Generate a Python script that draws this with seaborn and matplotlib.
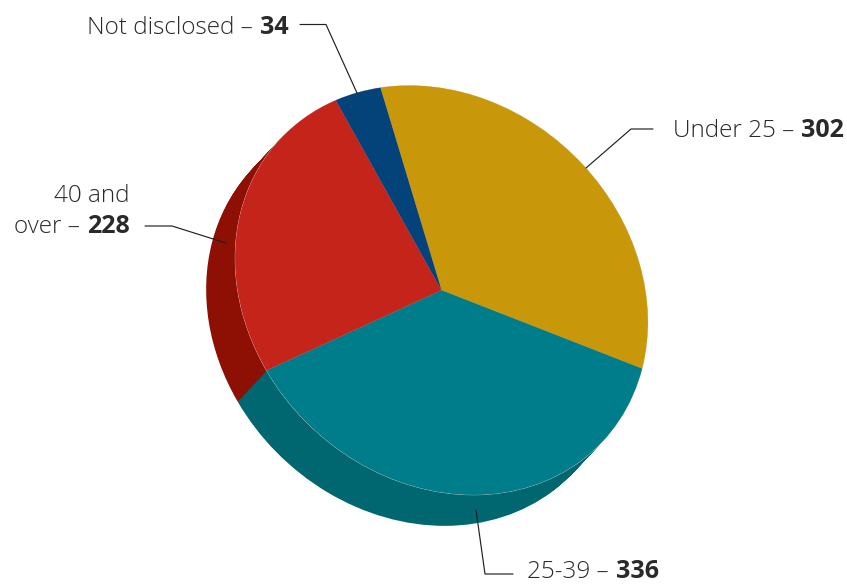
import matplotlib
matplotlib.use("Agg")
import matplotlib.pyplot as plt
from matplotlib.transforms import Affine2D
import seaborn as sns

# Staff counts by age band, clockwise from the top of the pie
age_bands = ["Under 25", "25-39", "40 and over", "Not disclosed"]
staff_counts = [302, 336, 228, 34]

top_colours = sns.color_palette(["#c8970a", "#007d8a", "#c5241b", "#03437a"])
side_colours = sns.color_palette(["#8f6c05", "#00666f", "#8e1005", "#022c52"])

INK = "#2b2a2b"
FONT = "Open Sans"
PLAIN_SIZE = 17.5
BOLD_SIZE = 18

sns.set_theme(style="white")
plt.rcParams["font.family"] = [FONT, "DejaVu Sans"]

fig = plt.figure(figsize=(8.47, 5.84), dpi=100)
ax = fig.add_axes([0, 0, 1, 1])

# Tilted disc: unit circle of the pie mapped onto the page in pixel units
disc = Affine2D.from_values(206.3, 27.5, -4.4, -202.8, 441.5, 290.2)
DEPTH_STEPS = 34
DEPTH_X, DEPTH_Y = -29, 31


def draw_pie(colours, transform, edge=None):
    wedges, _ = ax.pie(staff_counts, colors=colours, startangle=106,
                       counterclock=False, radius=1, frame=False,
                       wedgeprops={"linewidth": 0.5 if edge else 0,
                                   "edgecolor": edge or "none"})
    for wedge in wedges:
        wedge.set_transform(transform + ax.transData)


# Extruded side of the disc, furthest layer first
for step in range(DEPTH_STEPS, 0, -1):
    f = step / DEPTH_STEPS
    draw_pie(side_colours, disc + Affine2D().translate(DEPTH_X * f, DEPTH_Y * f))

# Pale rim under the top face, then the face itself
draw_pie(top_colours, disc, edge="#e9d5cf")
draw_pie(top_colours, disc)

ax.set_aspect("auto")
ax.set_xlim(0, 847)
ax.set_ylim(584, 0)
ax.axis("off")

# Leader lines from each label to its slice
leaders = [
    ([300, 326, 357], [24.5, 24.5, 93]),
    ([145, 172, 226], [226, 226, 243]),
    ([653, 631, 586], [129, 129, 168]),
    ([513, 485, 476], [574, 574, 510]),
]
for xs, ys in leaders:
    ax.plot(xs, ys, color="#231f20", lw=0.85, solid_joinstyle="miter")


def label(right, baseline, plain, bold):
    """Right-aligned label with a light lead-in and a bold count."""
    strong = ax.text(right, baseline, bold, ha="right", va="baseline",
                     fontsize=BOLD_SIZE, fontweight="bold", color=INK)
    renderer = fig.canvas.get_renderer()
    left = strong.get_window_extent(renderer).x0
    ax.text(left - 1, baseline, plain, ha="right", va="baseline",
            fontsize=PLAIN_SIZE, fontweight="light", color=INK)


label(289, 33.5, "Not disclosed – ", "34")
label(844, 137, "Under 25 – ", "302")
label(659, 578.5, "25-39 – ", "336")
label(130, 233, "over – ", "228")
ax.text(130, 201.5, "40 and", ha="right", va="baseline", fontsize=PLAIN_SIZE,
        fontweight="light", color=INK)

fig.savefig("out.png", dpi=100)
